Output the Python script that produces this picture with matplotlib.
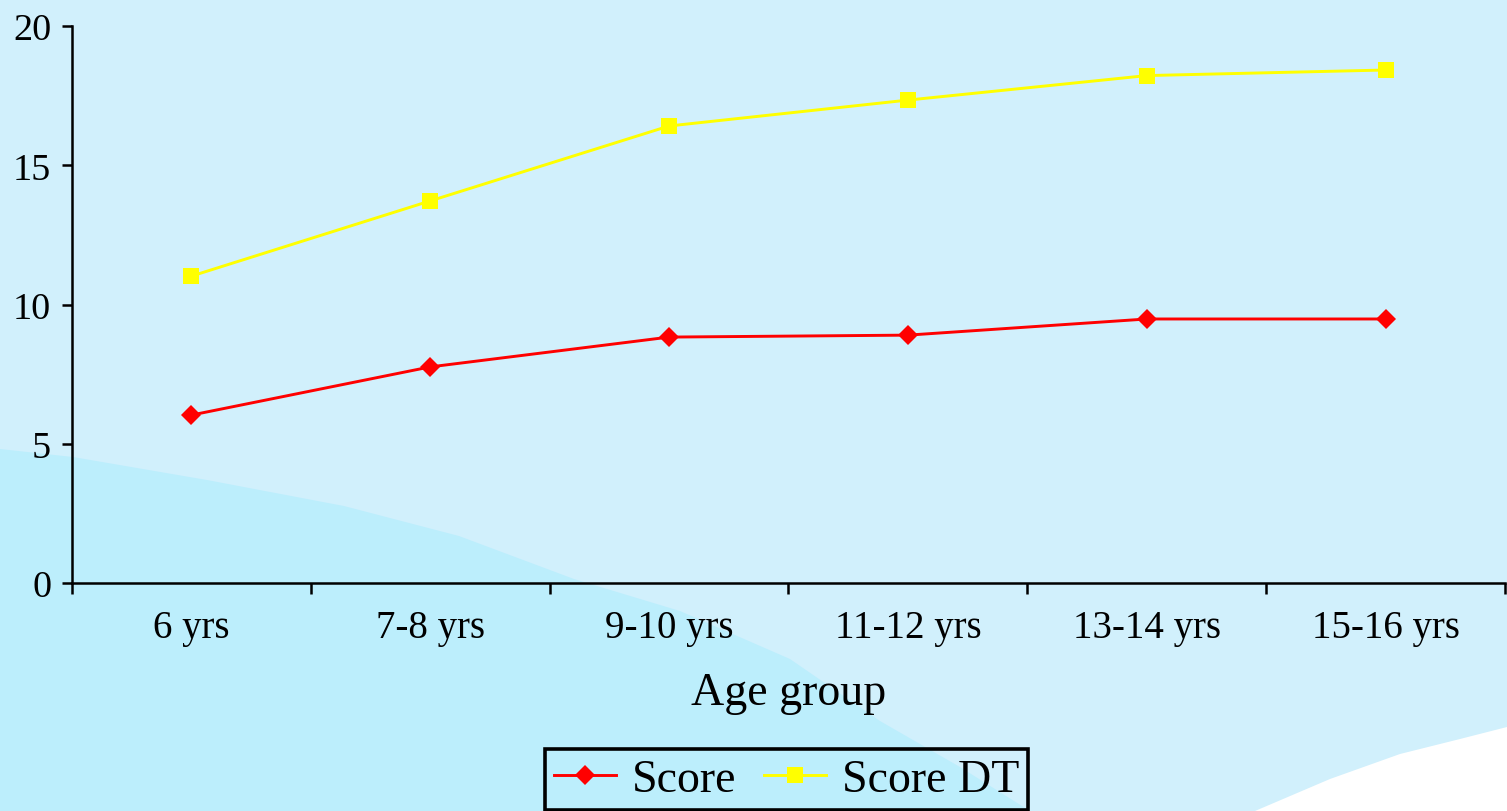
import numpy as np
import matplotlib
matplotlib.use("Agg")
import matplotlib.pyplot as plt
from matplotlib.patches import Polygon
from matplotlib.lines import Line2D

# Data
age_groups = ["6 yrs", "7-8 yrs", "9-10 yrs", "11-12 yrs", "13-14 yrs", "15-16 yrs"]
score = [6.03, 7.76, 8.83, 8.90, 9.48, 9.48]
score_dt = [11.02, 13.72, 16.41, 17.34, 18.22, 18.42]
y_ticks = [0, 5, 10, 15, 20]

plt.rcParams["font.family"] = ["Liberation Serif", "DejaVu Serif"]

W, H = 1507, 812
fig = plt.figure(figsize=(W / 100, H / 100), dpi=100)
fig.patch.set_facecolor("#D1F0FC")

# Decorative backdrop: cyan swoosh lower-left, white swoosh lower-right
bg = fig.add_axes([0, 0, 1, 1], zorder=0)
bg.set_xlim(0, W)
bg.set_ylim(H, 0)
bg.axis("off")
cyan_edge = [(0, 450), (73, 458), (207, 481), (344, 507), (459, 537), (574, 580),
             (680, 612), (790, 660), (880, 722), (960, 768), (1030, 812)]
bg.add_patch(Polygon(cyan_edge + [(0, 812)], closed=True,
                     facecolor="#BCEEFC", edgecolor="none"))
white_edge = [(1255, 812), (1330, 780), (1400, 755), (1460, 740), (1507, 728)]
bg.add_patch(Polygon(white_edge + [(1507, 812)], closed=True,
                     facecolor="#FFFFFF", edgecolor="none"))

# Main chart
ax = fig.add_axes([72 / W, 1 - 584 / H, (1505 - 72) / W, (584 - 27) / H], zorder=1)
ax.set_facecolor("none")

red_style = dict(color="#FF0000", lw=2.1, marker="D", ms=10, markeredgewidth=0)
yel_style = dict(color="#FFFF00", lw=2.1, marker="s", ms=11, markeredgewidth=0)

x = np.arange(len(age_groups))
ax.plot(x, score, label="Score", zorder=3, **red_style)
ax.plot(x, score_dt, label="Score DT", zorder=3, **yel_style)

ax.set_xlim(-0.5, len(age_groups) - 0.5)
ax.set_ylim(0, 20)
ax.set_yticks(y_ticks)
ax.set_yticklabels([str(t) for t in y_ticks], fontsize=27.5)

ax.set_xticks(np.arange(-0.5, len(age_groups)), labels=[])
ax.set_xticks(x, minor=True)
ax.set_xticklabels(age_groups, minor=True, fontsize=28)
ax.tick_params(axis="x", which="major", direction="out", length=8, width=1.8)
ax.tick_params(axis="x", which="minor", length=0, pad=19)
ax.tick_params(axis="y", direction="out", length=7, width=1.8, pad=8)

for s in ("top", "right"):
    ax.spines[s].set_visible(False)
for s in ("left", "bottom"):
    ax.spines[s].set_linewidth(1.8)

ax.set_xlabel("Age group", fontsize=33, labelpad=18)

handles = [Line2D([], [], **red_style), Line2D([], [], **yel_style)]
leg = fig.legend(handles, ["Score", "Score DT"], loc="upper center",
                 bbox_to_anchor=(786.5 / W, 1 - 750 / H), ncol=2, fontsize=33,
                 frameon=True, fancybox=False, framealpha=1, handlelength=1.35,
                 handletextpad=0.35, columnspacing=0.6, borderpad=0.2,
                 borderaxespad=0)
leg.get_frame().set_facecolor("none")
leg.get_frame().set_edgecolor("black")
leg.get_frame().set_linewidth(2.6)

fig.savefig("out.png", dpi=100, facecolor=fig.get_facecolor())
